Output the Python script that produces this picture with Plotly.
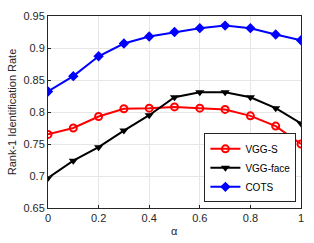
import plotly.graph_objects as go

alpha = [0, 0.1, 0.2, 0.3, 0.4, 0.5, 0.6, 0.7, 0.8, 0.9, 1.0]
vgg_s = [0.765, 0.775, 0.793, 0.805, 0.806, 0.808, 0.806, 0.804, 0.794, 0.778, 0.750]
vgg_face = [0.697, 0.724, 0.745, 0.771, 0.795, 0.823, 0.831, 0.831, 0.823, 0.806, 0.782]
cots = [0.832, 0.856, 0.887, 0.907, 0.918, 0.925, 0.931, 0.935, 0.931, 0.921, 0.912]

fig = go.Figure()
fig.add_trace(go.Scatter(x=alpha, y=vgg_s, name="VGG-S", mode="lines+markers",
                         line=dict(color="#ff0000", width=2),
                         marker=dict(symbol="circle-open", size=7, line=dict(width=2, color="#ff0000"))))
fig.add_trace(go.Scatter(x=alpha, y=vgg_face, name="VGG-face", mode="lines+markers",
                         line=dict(color="#000000", width=2),
                         marker=dict(symbol="triangle-down", size=8, color="#000000")))
fig.add_trace(go.Scatter(x=alpha, y=cots, name="COTS", mode="lines+markers",
                         line=dict(color="#0000ff", width=2),
                         marker=dict(symbol="diamond", size=8, color="#0000ff")))

axis_common = dict(showline=True, mirror=True, linecolor="#262626", linewidth=1,
                   ticks="inside", ticklen=3, tickcolor="#262626",
                   showgrid=True, gridcolor="#e6e6e6", gridwidth=1, zeroline=False,
                   tickfont=dict(family="Liberation Sans, Arial", size=11, color="#262626"))

fig.update_xaxes(range=[0, 1], tickvals=[0, 0.2, 0.4, 0.6, 0.8, 1],
                 ticktext=["0", "0.2", "0.4", "0.6", "0.8", "1"],
                 **axis_common)
fig.update_yaxes(range=[0.65, 0.95], tickvals=[0.65, 0.7, 0.75, 0.8, 0.85, 0.9, 0.95],
                 ticktext=["0.65", "0.7", "0.75", "0.8", "0.85", "0.9", "0.95"],
                 title=dict(text="Rank-1 Identification Rate", font=dict(family="Liberation Sans, Arial", size=11, color="#262626"), standoff=4),
                 **axis_common)

fig.add_annotation(text="α", xref="paper", yref="paper", x=0.5, y=-0.121,
                   xanchor="center", yanchor="middle", showarrow=False,
                   font=dict(family="Liberation Sans, Arial", size=11, color="#262626"))

fig.update_layout(
    width=314, height=243,
    margin=dict(l=48, r=12, t=10, b=35),
    plot_bgcolor="white", paper_bgcolor="white",
    showlegend=True,
    legend=dict(x=0.80, y=0.209, xanchor="center", yanchor="middle",
                bgcolor="white", bordercolor="#262626", borderwidth=1,
                font=dict(family="Liberation Sans, Arial", size=10, color="#000000"),
                tracegroupgap=0, itemwidth=30),
)

fig.write_html("out.html", config={"displayModeBar": False},
               post_script="document.body.style.margin='0';")
